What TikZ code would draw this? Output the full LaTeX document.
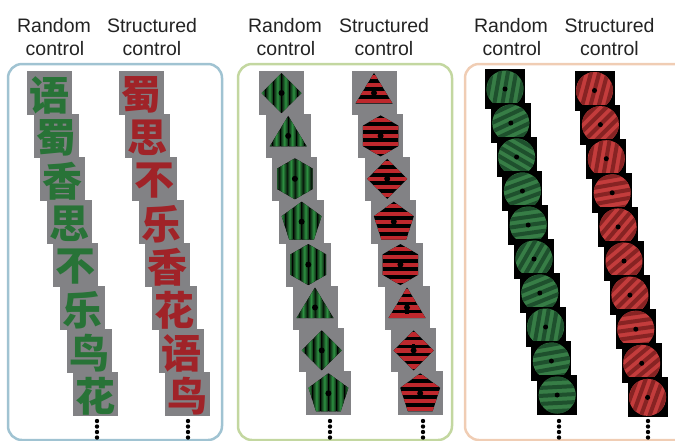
\documentclass[tikz,border=0pt]{standalone}
\usepackage{fontspec}
\setmainfont{Liberation Sans}
\newfontfamily\cjk{Noto Sans CJK SC}
\definecolor{labelcol}{RGB}{35,35,35}
\definecolor{tilegray}{RGB}{130,130,133}
\definecolor{cjkgreen}{RGB}{40,115,55}
\definecolor{cjkred}{RGB}{160,35,40}
\definecolor{shapegreen}{RGB}{45,145,65}
\definecolor{shapered}{RGB}{190,40,45}
\definecolor{gabg}{RGB}{55,125,70}
\definecolor{gabgd}{RGB}{30,80,45}
\definecolor{gabr}{RGB}{195,60,60}
\definecolor{gabrd}{RGB}{135,35,35}
\definecolor{bordA}{RGB}{160,195,210}
\definecolor{bordB}{RGB}{195,215,160}
\definecolor{bordC}{RGB}{240,205,180}
\tikzset{
  lbl/.style={anchor=base, inner sep=0pt, text=labelcol, font=\fontsize{19.5}{23}\selectfont},
  cjkg/.style={inner sep=0pt, text=cjkgreen, font=\cjk\bfseries\fontsize{40}{40}\selectfont},
  cjkr/.style={inner sep=0pt, text=cjkred, font=\cjk\bfseries\fontsize{40}{40}\selectfont},
  panelbox/.style={line width=2.5pt, rounded corners=14pt},
}
\newcommand\pdia{(0,-20) -- (20,0) -- (0,20) -- (-20,0) -- cycle}
\newcommand\ptri{(0,-20) -- (18.5,10.5) -- (-18.5,10.5) -- cycle}
\newcommand\phex{(0,-20.5) -- (17.75,-10.25) -- (17.75,10.25) -- (0,20.5) -- (-17.75,10.25) -- (-17.75,-10.25) -- cycle}
\newcommand\ppen{(0,-20) -- (19.97,-5.49) -- (12.34,17.99) -- (-12.34,17.99) -- (-19.97,-5.49) -- cycle}
\newcommand\gshape[3]{%
  \begin{scope}[shift={(#1,#2)}]
    \fill[tilegray] (-22.5,-22) rectangle (22.5,22);
    \begin{scope}
      \clip #3;
      \fill[black] (-25,-25) rectangle (25,25);
      \foreach \k in {-3,...,2}{
        \shade[left color=black!70!shapegreen,right color=black!70!shapegreen,middle color=shapegreen] ({\k*8+0.6},-25) rectangle ({\k*8+7.4},25);
      }
    \end{scope}
    \fill[black] (0,0) circle (3);
  \end{scope}}
\newcommand\rshape[3]{%
  \begin{scope}[shift={(#1,#2)}]
    \fill[tilegray] (-22.5,-22) rectangle (22.5,22);
    \begin{scope}
      \clip #3;
      \fill[black] (-25,-25) rectangle (25,25);
      \foreach \k in {-3,...,3}{
        \fill[shapered] (-25,{\k*8-2.1}) rectangle (25,{\k*8+2.1});
      }
    \end{scope}
    \fill[black] (-1.8,-6) rectangle (1.8,6);
    \fill[black] (0,0) circle (3);
  \end{scope}}
\newcommand\gabpatch[5]{%
  \begin{scope}[shift={(#1,#2)}]
    \fill[black] (-20,-20) rectangle (20,20);
    \fill[#4] (0,0) circle (18.5);
    \begin{scope}
      \clip (0,0) circle (18.5);
      \begin{scope}[rotate=#3]
        \foreach \k in {-3,...,3}{
          \fill[#5] ({\k*8-2},-22) rectangle ({\k*8+2},22);
        }
      \end{scope}
    \end{scope}
    \fill[black] (0,0) circle (2.5);
  \end{scope}}
\begin{document}
\begin{tikzpicture}[x=1pt,y=-1pt]
\useasboundingbox (0,0) rectangle (675,440);
% panel frames
\draw[panelbox, draw=bordA] (8,64) rectangle (222,440);
\draw[panelbox, draw=bordB] (238,64) rectangle (452,440);
\draw[panelbox, draw=bordC] (465,64) rectangle (690,440);
% labels
\node[lbl] (l1a) at (54,32) {Random};
\node[lbl] (l1b) at (55,55) {control};
\node[lbl] (l2a) at (152,32) {Structured};
\node[lbl] (l2b) at (152,55) {control};
\node[lbl] (l3a) at (285,32) {Random};
\node[lbl] (l3b) at (286,55) {control};
\node[lbl] (l4a) at (384,32) {Structured};
\node[lbl] (l4b) at (384,55) {control};
\node[lbl] (l5a) at (511,32) {Random};
\node[lbl] (l5b) at (512,55) {control};
\node[lbl] (l6a) at (609.5,32) {Structured};
\node[lbl] (l6b) at (609.5,55) {control};
% panel 1: characters
\foreach \c [count=\i from 0] in {语,蜀,香,思,不,乐,鸟,花}{
  \pgfmathsetmacro\cx{49.5+6.6*\i}
  \pgfmathsetmacro\cy{93+43*\i}
  \fill[tilegray] (\cx-22.5,\cy-22) rectangle (\cx+22.5,\cy+22);
  \node[cjkg] (gc\i) at (\cx,\cy+2) {\c};
}
\foreach \c [count=\i from 0] in {蜀,思,不,乐,香,花,语,鸟}{
  \pgfmathsetmacro\cx{141+6.7*\i}
  \pgfmathsetmacro\cy{93+43*\i}
  \fill[tilegray] (\cx-22.5,\cy-22) rectangle (\cx+22.5,\cy+22);
  \node[cjkr] (rc\i) at (\cx,\cy+2) {\c};
}
% panel 2: shapes
\foreach \s [count=\i from 0] in {\pdia,\ptri,\phex,\ppen,\phex,\ptri,\pdia,\ppen}{
  \pgfmathsetmacro\cx{281.5+6.7*\i}
  \pgfmathsetmacro\cy{93+42.9*\i}
  \gshape{\cx}{\cy}{\s}
}
\foreach \s [count=\i from 0] in {\ptri,\phex,\pdia,\ppen,\phex,\ptri,\pdia,\ppen}{
  \pgfmathsetmacro\cx{374+6.6*\i}
  \pgfmathsetmacro\cy{93+42.9*\i}
  \rshape{\cx}{\cy}{\s}
}
% panel 3: gratings
\foreach \a [count=\i from 0] in {80,25,-30,20,8,60,22,80,10,3}{
  \pgfmathsetmacro\cx{505+5.8*\i}
  \pgfmathsetmacro\cy{89+34*\i}
  \pgfmathsetmacro\rot{\a-90}
  \gabpatch{\cx}{\cy}{\rot}{gabg}{gabgd}
}
\foreach \a [count=\i from 0] in {75,45,80,10,50,40,45,8,40,70}{
  \pgfmathsetmacro\cx{594.5+5.9*\i}
  \pgfmathsetmacro\cy{90.5+34.1*\i}
  \pgfmathsetmacro\rot{\a-90}
  \gabpatch{\cx}{\cy}{\rot}{gabr}{gabrd}
}
% continuation dots
\foreach \x in {97,188,330,423,559,648}{
  \foreach \y in {421,426.5,432,437.5}{
    \fill[black] (\x,\y) circle (2.2);
  }
}
\end{tikzpicture}
\end{document}
